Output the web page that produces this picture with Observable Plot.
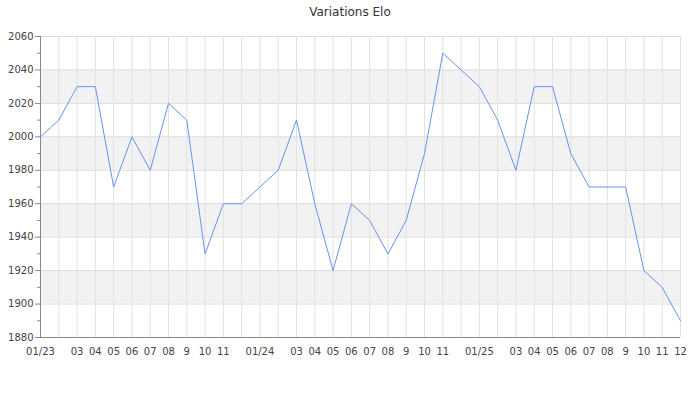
<!DOCTYPE html>
<html>
<head>
<meta charset="utf-8">
<script src="https://cdn.jsdelivr.net/npm/d3@7"></script>
<script src="https://cdn.jsdelivr.net/npm/@observablehq/plot@0.6"></script>
<style>
  body { margin: 0; background: #fff; font-family: "DejaVu Sans", sans-serif; overflow: hidden; }
  #title { width: 700px; height: 24px; line-height: 24px; text-align: center; font-size: 12px; color: #333; }
</style>
</head>
<body>
<div id="title">Variations Elo</div>
<div id="chart"></div>
<script>
const months = [
  "2023-01","2023-02","2023-03","2023-04","2023-05","2023-06","2023-07","2023-08","2023-09","2023-10","2023-11","2023-12",
  "2024-01","2024-02","2024-03","2024-04","2024-05","2024-06","2024-07","2024-08","2024-09","2024-10","2024-11","2024-12",
  "2025-01","2025-02","2025-03","2025-04","2025-05","2025-06","2025-07","2025-08","2025-09","2025-10","2025-11","2025-12"
];
const elo = [
  2000, 2010, 2030, 2030, 1970, 2000, 1980, 2020, 2010, 1930, 1960, 1960,
  1970, 1980, 2010, 1960, 1920, 1960, 1950, 1930, 1950, 1990, 2050, 2040,
  2030, 2010, 1980, 2030, 2030, 1990, 1970, 1970, 1970, 1920, 1910, 1890
];
const tickLabels = [
  "01/23","","03","04","05","06","07","08","9","10","11","",
  "01/24","","03","04","05","06","07","08","9","10","11","",
  "01/25","","03","04","05","06","07","08","9","10","11","12"
];
const yTicks = [1880, 1900, 1920, 1940, 1960, 1980, 2000, 2020, 2040, 2060];
const yMinorTicks = [1890, 1910, 1930, 1950, 1970, 1990, 2010, 2030, 2050];
const bandStarts = [1900, 1940, 1980, 2020];

const data = months.map((m, i) => ({month: m, elo: elo[i]}));
const labelOf = new Map(months.map((m, i) => [m, tickLabels[i]]));

const chart = Plot.plot({
  width: 700,
  height: 376,
  marginTop: 12,
  marginBottom: 63,
  marginLeft: 40,
  marginRight: 20,
  style: {fontFamily: "DejaVu Sans, sans-serif", fontSize: "10px", color: "#444", background: "#fff"},
  x: {type: "point", domain: months, padding: 0, round: false},
  y: {domain: [1880, 2060]},
  marks: [
    Plot.rect(bandStarts, {y1: d => d, y2: d => d + 20, fill: "#f2f2f2"}),
    Plot.gridY(yTicks, {stroke: "#dedede", strokeOpacity: 1}),
    Plot.gridX(months, {stroke: "#e2e2e2", strokeOpacity: 1}),
    Plot.axisX(months, {tickSize: 0, tickPadding: 10, tickFormat: m => labelOf.get(m), label: null, fill: "#444"}),
    Plot.axisY(yTicks, {tickSize: 5, tickPadding: 2, tickFormat: d3.format("d"), label: null, stroke: "#888", fill: "#444"}),
    Plot.axisY(yMinorTicks, {tickSize: 3, tickFormat: () => "", label: null, stroke: "#888"}),
    Plot.ruleY([1880], {stroke: "#888"}),
    Plot.ruleX([months[0]], {stroke: "#888"}),
    Plot.line(data, {x: "month", y: "elo", stroke: "#6495ed", strokeWidth: 1})
  ]
});
document.getElementById("chart").appendChild(chart);
</script>
</body>
</html>
